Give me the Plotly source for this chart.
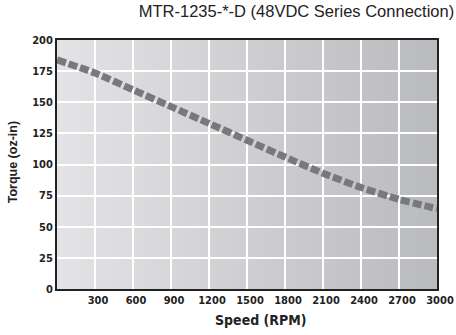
import plotly.graph_objects as go

speed = [0, 300, 600, 900, 1200, 1500, 1800, 2100, 2400, 2700, 3000]
torque = [184, 173.5, 160, 146.5, 133, 119.5, 106, 93, 81.5, 72, 64.5]
x_ticks = [300, 600, 900, 1200, 1500, 1800, 2100, 2400, 2700, 3000]
y_ticks = [0, 25, 50, 75, 100, 125, 150, 175, 200]

fig = go.Figure()

# background gradient (light on the left, darker on the right)
n = 60
c0 = (227, 227, 229)
c1 = (186, 187, 190)
shapes = []
for i in range(n):
    t = i / (n - 1)
    col = tuple(round(c0[k] + (c1[k] - c0[k]) * t) for k in range(3))
    shapes.append(dict(type="rect", xref="paper", yref="paper",
                       x0=i / n, x1=(i + 1) / n + 0.002, y0=0, y1=1,
                       fillcolor="rgb(%d,%d,%d)" % col, line=dict(width=0),
                       layer="below"))

fig.add_trace(go.Scatter(
    x=speed, y=torque, mode="lines",
    line=dict(color="#78797c", width=7, dash="9px,3px", shape="spline", smoothing=0.6),
    hoverinfo="skip", showlegend=False))

tickfont = dict(family="Liberation Sans Narrow, DejaVu Sans Condensed, Arial Narrow, sans-serif",
                size=11, color="#222", weight="bold")

fig.update_layout(
    width=456, height=335,
    margin=dict(l=57, r=19, t=40, b=46, autoexpand=False),
    paper_bgcolor="white", plot_bgcolor="#d0d0d3",
    shapes=shapes,
    title=dict(text="MTR-1235-*-D (48VDC Series Connection)",
               xref="container", x=0.996, xanchor="right", y=0.985, yanchor="top",
               font=dict(family="Liberation Sans, Arial, sans-serif", size=16.5, color="#222")),
    xaxis=dict(range=[0, 3000], tickvals=x_ticks, ticktext=[str(v) for v in x_ticks],
               showgrid=True, gridcolor="white", gridwidth=1.5,
               showline=True, linecolor="#222", linewidth=2, mirror=True,
               ticks="", tickfont=tickfont, ticklabelshift=3,
               zeroline=False, fixedrange=True, automargin=False),
    yaxis=dict(range=[0, 200], tickvals=y_ticks, ticktext=[str(v) for v in y_ticks],
               showgrid=True, gridcolor="white", gridwidth=1.5,
               showline=True, linecolor="#222", linewidth=2, mirror=True,
               ticks="", tickfont=tickfont,
               zeroline=False, fixedrange=True, automargin=False),
    annotations=[
        dict(text="<b>Speed (RPM)</b>", xref="paper", yref="paper",
             x=0.537, y=-0.125, xanchor="center", yanchor="middle", showarrow=False,
             font=dict(family="Liberation Sans Narrow, DejaVu Sans Condensed, sans-serif",
                       size=14, color="#222")),
        dict(text="<b>Torque (oz-in)</b>", xref="paper", yref="paper",
             x=-0.115, y=0.51, xanchor="center", yanchor="middle", showarrow=False,
             textangle=-90,
             font=dict(family="Liberation Sans, Arial, sans-serif", size=12.5, color="#222")),
    ],
)

fig.write_html("out.html", config={"displayModeBar": False},
               post_script="document.body.style.margin='0px';")
